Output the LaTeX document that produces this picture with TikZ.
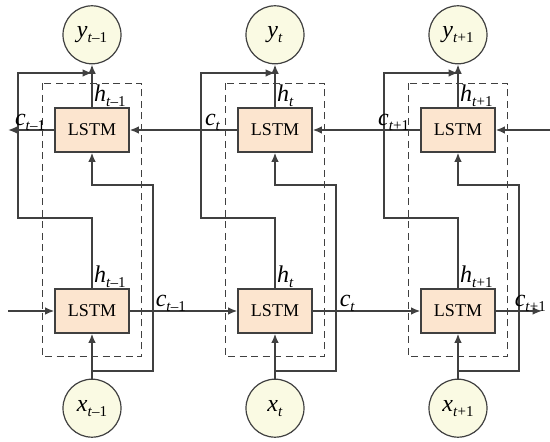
\documentclass[tikz,border=0pt]{standalone}
\usepackage{fontspec}
\setmainfont{Liberation Serif}
\usetikzlibrary{arrows.meta,positioning,calc}
\definecolor{cellfill}{RGB}{252,229,207}
\definecolor{iofill}{RGB}{250,250,227}
\definecolor{lineclr}{RGB}{64,64,64}
\newcommand{\lstmvar}[2]{\textit{#1}\raisebox{-0.45ex}{\fontsize{15}{16}\selectfont\textit{t}#2}}

\begin{document}
\begin{tikzpicture}[x=1pt,y=1pt,
    lstmcell/.style={draw=lineclr,fill=cellfill,line width=1.2pt,
        minimum width=74pt,minimum height=44pt,inner sep=0pt,
        font=\fontsize{18}{20}\selectfont},
    lstmio/.style={circle,draw=lineclr,fill=iofill,line width=1.2pt,
        minimum size=58pt,inner sep=0pt,font=\fontsize{24}{26}\selectfont},
    lstmarrow/.style={-{Latex[length=3.3mm,width=2.7mm]},draw=lineclr,line width=1.7pt},
    lstmframe/.style={draw=lineclr,line width=1.1pt,dash pattern=on 7pt off 4.5pt},
    lstmlabel/.style={font=\fontsize{24}{26}\selectfont,inner sep=1pt}
]
\useasboundingbox (0,0) rectangle (550,442);
% cells
\node[lstmcell] (topprev) at (92,312) {LSTM};
\node[lstmcell] (botprev) at (92,131) {LSTM};
\node[lstmcell] (topcur) at (275,312) {LSTM};
\node[lstmcell] (botcur) at (275,131) {LSTM};
\node[lstmcell] (topnext) at (458,312) {LSTM};
\node[lstmcell] (botnext) at (458,131) {LSTM};
% inputs and outputs
\node[lstmio,above=43pt of topprev] (yprev) {\lstmvar{y}{--1}};
\node[lstmio,above=43pt of topcur] (ycur) {\lstmvar{y}{}};
\node[lstmio,above=43pt of topnext] (ynext) {\lstmvar{y}{+1}};
\node[lstmio,below=45pt of botprev] (xprev) {\lstmvar{x}{--1}};
\node[lstmio,below=45pt of botcur] (xcur) {\lstmvar{x}{}};
\node[lstmio,below=45pt of botnext] (xnext) {\lstmvar{x}{+1}};
% dashed frames
\draw[lstmframe] ($(topprev.north west)+(-12,24)$) rectangle ($(botprev.south east)+(12,-23)$);
\draw[lstmframe] ($(topcur.north west)+(-12,24)$) rectangle ($(botcur.south east)+(12,-23)$);
\draw[lstmframe] ($(topnext.north west)+(-12,24)$) rectangle ($(botnext.south east)+(12,-23)$);
% free ends and loop corners
\coordinate (topin) at (550,312);
\coordinate (topout) at (8,312);
\coordinate (botin) at (8,131);
\coordinate (botout) at (542,131);
\coordinate (hlowprev) at (18,224);
\coordinate (hhighprev) at (18,369);
\coordinate (hlowcur) at (201,224);
\coordinate (hhighcur) at (201,369);
\coordinate (hlownext) at (384,224);
\coordinate (hhighnext) at (384,369);
\coordinate (xlowprev) at (153,71);
\coordinate (xhighprev) at (153,257);
\coordinate (xlowcur) at (336,71);
\coordinate (xhighcur) at (336,257);
\coordinate (xlownext) at (519,71);
\coordinate (xhighnext) at (519,257);
% top chain, right to left
\draw[lstmarrow] (topin)--(topnext.east);
\draw[lstmarrow] (topnext.west)--(topcur.east);
\draw[lstmarrow] (topcur.west)--(topprev.east);
\draw[lstmarrow] (topprev.west)--(topout);
% bottom chain, left to right
\draw[lstmarrow] (botin)--(botprev.west);
\draw[lstmarrow] (botprev.east)--(botcur.west);
\draw[lstmarrow] (botcur.east)--(botnext.west);
\draw[lstmarrow] (botnext.east)--(botout);
% outputs and inputs
\draw[lstmarrow] (topprev.north)--(yprev.south);
\draw[lstmarrow] (topcur.north)--(ycur.south);
\draw[lstmarrow] (topnext.north)--(ynext.south);
\draw[lstmarrow] (xprev.north)--(botprev.south);
\draw[lstmarrow] (xcur.north)--(botcur.south);
\draw[lstmarrow] (xnext.north)--(botnext.south);
% hidden state to output
\draw[lstmarrow] (botprev.north) |- (hlowprev)--(hhighprev)--(hhighprev -| topprev.north);
\draw[lstmarrow] (botcur.north) |- (hlowcur)--(hhighcur)--(hhighcur -| topcur.north);
\draw[lstmarrow] (botnext.north) |- (hlownext)--(hhighnext)--(hhighnext -| topnext.north);
% input to backward cell
\draw[lstmarrow] (xlowprev -| xprev.north)--(xlowprev)--(xhighprev) -| (topprev.south);
\draw[lstmarrow] (xlowcur -| xcur.north)--(xlowcur)--(xhighcur) -| (topcur.south);
\draw[lstmarrow] (xlownext -| xnext.north)--(xlownext)--(xhighnext) -| (topnext.south);
% labels
\node[lstmlabel,anchor=south west] (htopprev) at ($(topprev.north)+(1,0)$) {\lstmvar{h}{--1}};
\node[lstmlabel,anchor=south west] (htopcur) at ($(topcur.north)+(1,0)$) {\lstmvar{h}{}};
\node[lstmlabel,anchor=south west] (htopnext) at ($(topnext.north)+(1,0)$) {\lstmvar{h}{+1}};
\node[lstmlabel,anchor=south west] (hbotprev) at ($(botprev.north)+(1,0)$) {\lstmvar{h}{--1}};
\node[lstmlabel,anchor=south west] (hbotcur) at ($(botcur.north)+(1,0)$) {\lstmvar{h}{}};
\node[lstmlabel,anchor=south west] (hbotnext) at ($(botnext.north)+(1,0)$) {\lstmvar{h}{+1}};
\node[lstmlabel,anchor=south east] (ctopprev) at ($(topprev.west)+(-8,-2)$) {\lstmvar{c}{--1}};
\node[lstmlabel,anchor=south east] (ctopcur) at ($(topcur.west)+(-16,-2)$) {\lstmvar{c}{}};
\node[lstmlabel,anchor=south east] (ctopnext) at ($(topnext.west)+(-10,-2)$) {\lstmvar{c}{+1}};
\node[lstmlabel,anchor=south west] (cbotprev) at ($(botprev.east)+(25,-2)$) {\lstmvar{c}{--1}};
\node[lstmlabel,anchor=south west] (cbotcur) at ($(botcur.east)+(26,-2)$) {\lstmvar{c}{}};
\node[lstmlabel,anchor=south west] (cbotnext) at ($(botnext.east)+(18,-2)$) {\lstmvar{c}{+1}};
\end{tikzpicture}
\end{document}
